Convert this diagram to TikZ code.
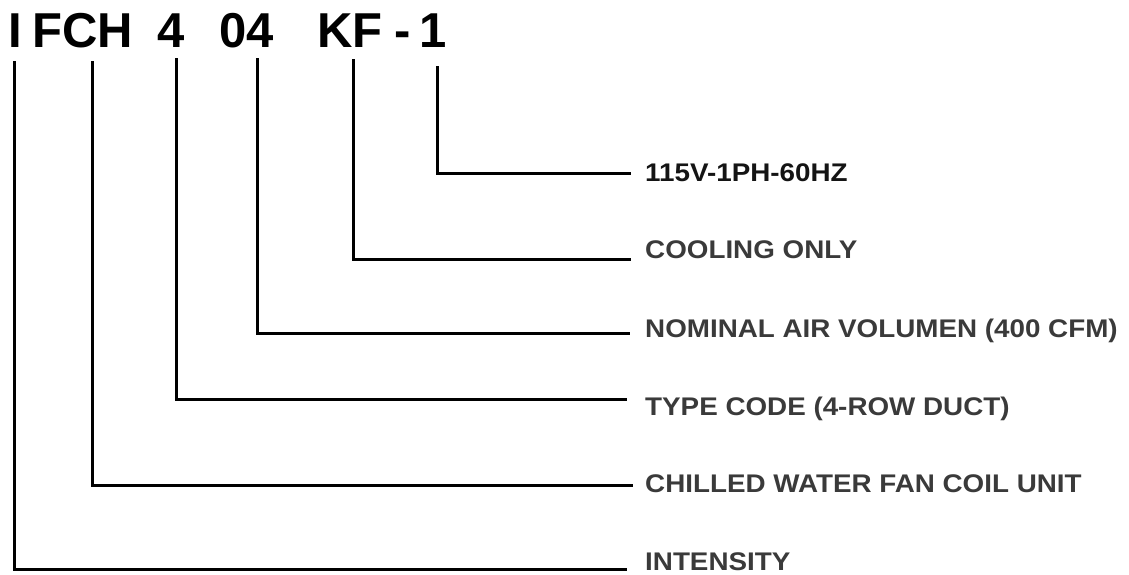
\documentclass[tikz,border=0pt]{standalone}
\usepackage{fontspec}
\setmainfont{Liberation Sans}
\definecolor{lbl}{HTML}{3A3A3A}
\definecolor{lblk}{HTML}{141414}
\begin{document}
\begin{tikzpicture}[x=1pt,y=-1pt,
  titlepart/.style={anchor=base,inner sep=0pt,font=\fontsize{49}{49}\selectfont\bfseries,text=black},
  label/.style={anchor=base west,inner sep=0pt,font=\fontsize{25.5}{26}\selectfont\bfseries,text=lbl},
  leader/.style={draw=black,line width=3pt,line join=miter}]
\useasboundingbox (0,0) rectangle (1129,574);
% title
\node[titlepart] (tI) at (15,47) {I};
\node[titlepart] (tFCH) at (83,47) {FCH};
\node[titlepart] (t4) at (171.5,47) {4};
\node[titlepart] (t04) at (247,47) {04};
\node[titlepart] (tKF) at (350,47) {KF};
\node[titlepart] (tdash) at (402.5,47) {-};
\node[titlepart] (t1) at (433.5,47) {1};
% labels
\node[label,text=lblk] (l1) at (645,181) {\scalebox{1.09}[1]{115V-1PH-60HZ}};
\node[label] (lKF) at (645,258) {\scalebox{1.09}[1]{COOLING ONLY}};
\node[label] (l04) at (645,337) {\scalebox{1.09}[1]{NOMINAL AIR VOLUMEN (400 CFM)}};
\node[label] (l4) at (645,415) {\scalebox{1.09}[1]{TYPE CODE (4-ROW DUCT)}};
\node[label] (lFCH) at (645,492) {\scalebox{1.09}[1]{CHILLED WATER FAN COIL UNIT}};
\node[label] (lI) at (645,570) {\scalebox{1.09}[1]{INTENSITY}};
% leader start/end points
\coordinate (s1) at (437,66);   \coordinate (e1) at (631,173);
\coordinate (sKF) at (353,59);  \coordinate (eKF) at (631,259);
\coordinate (s04) at (257,58);  \coordinate (e04) at (630,333);
\coordinate (s4) at (176,58);   \coordinate (e4) at (627,399);
\coordinate (sFCH) at (92,61);  \coordinate (eFCH) at (633,485);
\coordinate (sI) at (14,61);    \coordinate (eI) at (627,569);
\draw[leader] (s1) |- (e1);
\draw[leader] (sKF) |- (eKF);
\draw[leader] (s04) |- (e04);
\draw[leader] (s4) |- (e4);
\draw[leader] (sFCH) |- (eFCH);
\draw[leader] (sI) |- (eI);
\end{tikzpicture}
\end{document}
